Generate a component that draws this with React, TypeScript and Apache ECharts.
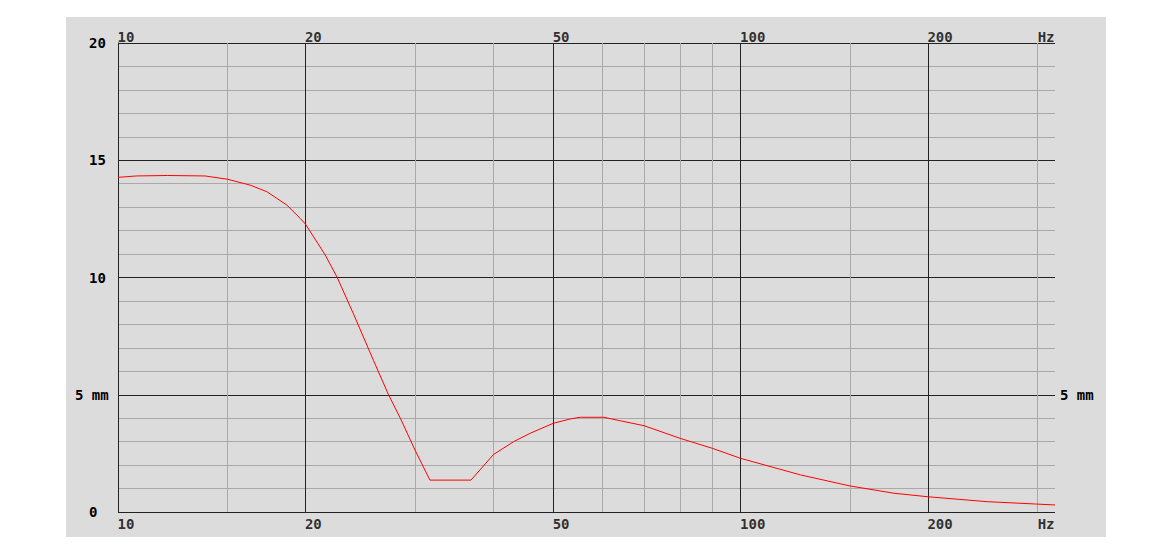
import React, { useEffect, useRef } from 'react';
import * as echarts from 'echarts';

// Frequency response of cone excursion (Hz -> mm)
const freqs = [10, 10.7, 12, 13.8, 15, 16.3, 17.34, 18.67, 19.62, 20, 21.52, 22.5, 23.89, 25.74, 27.2, 28.41, 30, 31.7, 36.9, 40.1, 43.2, 45.96, 50, 53.3, 55.3, 60.3, 64.1, 70, 80, 90, 100, 124.9, 150, 176.4, 200, 249, 298, 320];
const excursion = [14.27, 14.33, 14.35, 14.33, 14.19, 13.94, 13.66, 13.09, 12.52, 12.28, 10.96, 10.0, 8.45, 6.45, 5.0, 4.0, 2.64, 1.36, 1.36, 2.45, 3.0, 3.36, 3.78, 3.97, 4.04, 4.04, 3.89, 3.68, 3.14, 2.72, 2.29, 1.58, 1.11, 0.8, 0.65, 0.44, 0.34, 0.3];

const majorFreqs = [20, 50, 100, 200];
const minorFreqs = [15, 30, 40, 60, 70, 80, 90, 150, 300];

const freqTickValues = [10, 20, 50, 100, 200, 320];
const freqTickLabels = ['10', '20', '50', '100', '200', 'Hz'];

const X_MIN = 10;
const X_MAX = 320;
const Y_MIN = 0;
const Y_MAX = 20;

const FONT = 'DejaVu Sans Mono';
const GRAY = '#a9a9a9';
const DARK = '#222222';

export default function App() {
  const ref = useRef<HTMLDivElement>(null);

  useEffect(() => {
    if (!ref.current) return;
    const chart = echarts.init(ref.current, null, { renderer: 'svg' });
    const labelText = {
      fontFamily: FONT,
      fontWeight: 'bold' as const,
      fontSize: 14,
      color: '#000',
    };
    const tickData = (y: number) =>
      freqTickValues.map((f, i) => ({ value: [f, y], name: freqTickLabels[i] }));

    chart.setOption({
      animation: false,
      backgroundColor: '#dcdcdc',
      grid: { left: 52, top: 26, width: 937, height: 469, containLabel: false },
      xAxis: {
        type: 'log',
        logBase: 10,
        min: X_MIN,
        max: X_MAX,
        axisLine: { show: false },
        axisTick: { show: false },
        axisLabel: { show: false },
        splitLine: { show: false },
      },
      yAxis: [
        {
          type: 'value',
          min: Y_MIN,
          max: Y_MAX,
          interval: 1,
          position: 'left',
          axisLine: { show: true, lineStyle: { color: DARK, width: 1 } },
          axisTick: { show: false },
          axisLabel: { show: false },
          splitLine: { show: true, lineStyle: { color: GRAY, width: 1 } },
        },
        {
          type: 'value',
          min: Y_MIN,
          max: Y_MAX,
          interval: 5,
          position: 'left',
          z: 3,
          axisLine: { show: false },
          axisTick: { show: false },
          axisLabel: {
            ...labelText,
            align: 'left',
            margin: 29,
            padding: [5, 0, 0, 0],
            formatter: (v: number) => (v === 5 ? '' : String(v)),
          },
          splitLine: { show: true, lineStyle: { color: DARK, width: 1 } },
        },
        {
          type: 'value',
          min: Y_MIN,
          max: Y_MAX,
          interval: 5,
          position: 'left',
          axisLine: { show: false },
          axisTick: { show: false },
          axisLabel: {
            ...labelText,
            align: 'left',
            margin: 43,
            padding: [5, 0, 0, 0],
            formatter: (v: number) => (v === 5 ? '5 mm' : ''),
          },
          splitLine: { show: false },
        },
        {
          type: 'value',
          min: Y_MIN,
          max: Y_MAX,
          interval: 5,
          position: 'right',
          axisLine: { show: false },
          axisTick: { show: false },
          axisLabel: {
            ...labelText,
            align: 'left',
            margin: 5,
            padding: [5, 0, 0, 0],
            formatter: (v: number) => (v === 5 ? '5 mm' : ''),
          },
          splitLine: { show: false },
        },
      ],
      series: [
        {
          type: 'line',
          data: [],
          z: 2,
          silent: true,
          markLine: {
            silent: true,
            symbol: ['none', 'none'],
            label: { show: false },
            lineStyle: { color: GRAY, type: 'solid', width: 1 },
            data: minorFreqs.map((f) => ({ xAxis: f })),
          },
        },
        {
          type: 'line',
          data: [],
          z: 4,
          silent: true,
          markLine: {
            silent: true,
            symbol: ['none', 'none'],
            label: { show: false },
            lineStyle: { color: DARK, type: 'solid', width: 1 },
            data: majorFreqs.map((f) => ({ xAxis: f })),
          },
        },
        {
          type: 'line',
          z: 6,
          data: freqs.map((f, i) => [f, excursion[i]]),
          showSymbol: false,
          symbol: 'none',
          smooth: false,
          lineStyle: { color: '#ff0000', width: 1 },
        },
        {
          type: 'scatter',
          z: 7,
          clip: false,
          silent: true,
          symbolSize: 1,
          itemStyle: { color: 'rgba(0,0,0,0)' },
          data: tickData(Y_MAX),
          label: {
            show: true,
            ...labelText,
            formatter: '{b}',
            position: [0, 1],
            align: 'left',
            verticalAlign: 'bottom',
          },
          labelLayout: (p: any) => (p.text === 'Hz' ? { align: 'right' } : {}),
        },
        {
          type: 'scatter',
          z: 7,
          clip: false,
          silent: true,
          symbolSize: 1,
          itemStyle: { color: 'rgba(0,0,0,0)' },
          data: tickData(Y_MIN),
          label: {
            show: true,
            ...labelText,
            formatter: '{b}',
            position: [0, 5],
            align: 'left',
            verticalAlign: 'top',
          },
          labelLayout: (p: any) => (p.text === 'Hz' ? { align: 'right' } : {}),
        },
      ],
    });
    return () => chart.dispose();
  }, []);

  return (
    <div
      ref={ref}
      style={{ position: 'fixed', left: 66, top: 17, width: 1040, height: 520 }}
    />
  );
}
